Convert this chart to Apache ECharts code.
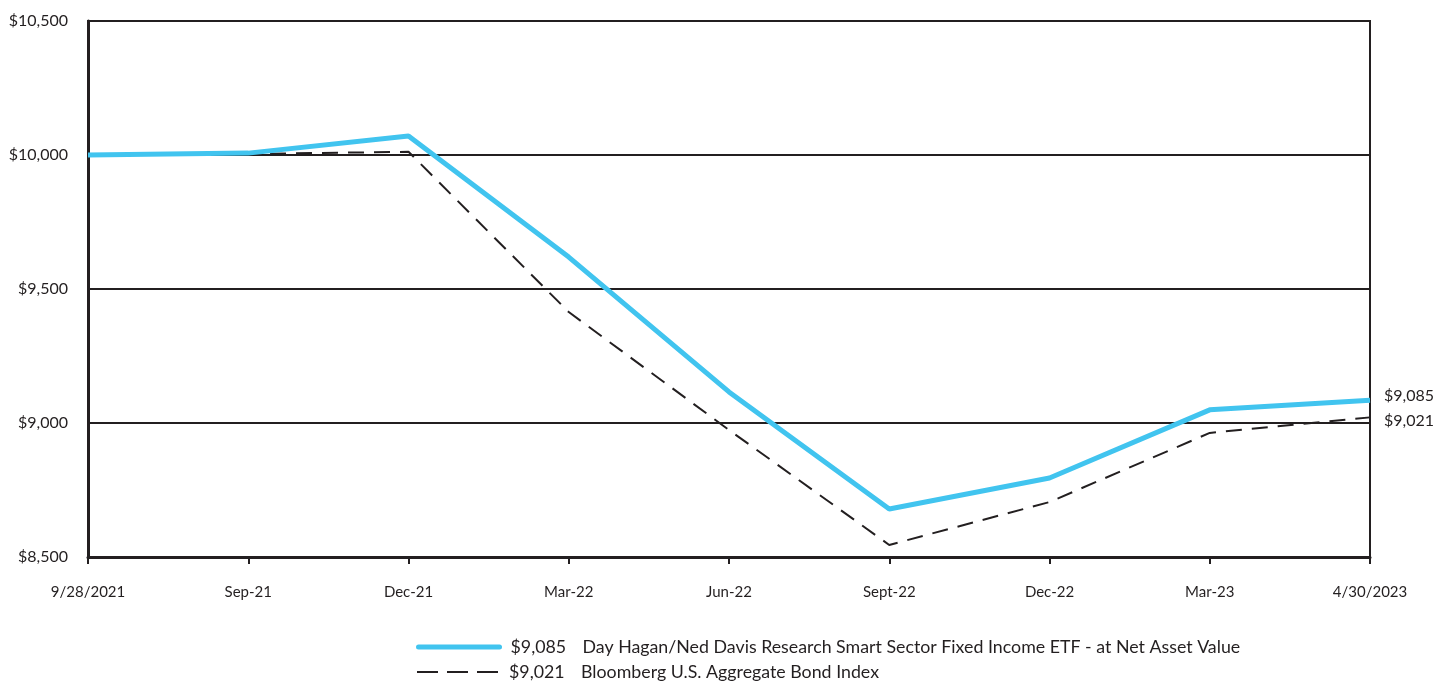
<!DOCTYPE html>
<html>
<head>
<meta charset="utf-8">
<script src="https://cdn.jsdelivr.net/npm/echarts@6/dist/echarts.min.js"></script>
<style>
  html, body { margin: 0; padding: 0; background: #fff; }
  #chart { width: 1437px; height: 681px; }
</style>
</head>
<body>
<div id="chart"></div>
<script>
// data
var categories = ['9/28/2021', 'Sep-21', 'Dec-21', 'Mar-22', 'Jun-22', 'Sept-22', 'Dec-22', 'Mar-23', '4/30/2023'];
var fundName = 'Day Hagan/Ned Davis Research Smart Sector Fixed Income ETF - at Net Asset Value';
var indexName = 'Bloomberg U.S. Aggregate Bond Index';
var fundValues = [10000, 10007, 10071, 9619, 9116, 8679, 8795, 9049, 9085];
var indexValues = [10000, 10004, 10012, 9414, 8974, 8545, 8705, 8963, 9021];
var yTicks = [8500, 9000, 9500, 10000, 10500];

var ink = '#231f20';
var blue = '#41c4ef';

function money(v) {
  return '$' + v.toLocaleString('en-US');
}

var endValues = {};
endValues[fundName] = fundValues[fundValues.length - 1];
endValues[indexName] = indexValues[indexValues.length - 1];

// one legend box per row
function legendRow(name, top, lineStyle) {
  return {
    left: 411,
    top: top,
    itemWidth: 81,
    itemHeight: 14,
    data: [name],
    itemStyle: { opacity: 0 },
    lineStyle: lineStyle,
    formatter: function (n) {
      return '{v|' + money(endValues[n]) + '}' + n;
    },
    textStyle: {
      color: ink, fontSize: 17.8,
      rich: { v: { width: 72, fontSize: 17.8, color: ink, padding: [0, 0, 0, 6] } }
    }
  };
}

var myChart = echarts.init(document.getElementById('chart'));
var option = {
  animation: false,
  textStyle: { fontFamily: 'Lato, "Open Sans", sans-serif', color: ink },
  grid: {
    left: 88, right: 67, top: 21, bottom: 124,
    show: true, borderColor: ink, borderWidth: 2, backgroundColor: 'transparent'
  },
  legend: [
    legendRow(fundName, 633, { color: blue, width: 5, type: 'solid', cap: 'round' }),
    legendRow(indexName, 658, { color: ink, width: 2, type: [21, 9] })
  ],
  xAxis: {
    type: 'category',
    boundaryGap: false,
    data: categories,
    axisLine: { show: true, lineStyle: { color: ink, width: 3 } },
    axisTick: { show: true, length: 7, alignWithLabel: true, lineStyle: { color: ink, width: 2 } },
    axisLabel: { color: ink, fontSize: 15, margin: 28, interval: 0 },
    splitLine: { show: false }
  },
  yAxis: {
    type: 'value',
    min: yTicks[0],
    max: yTicks[yTicks.length - 1],
    interval: 500,
    axisLine: { show: true, lineStyle: { color: ink, width: 3 } },
    axisTick: { show: false },
    axisLabel: { color: ink, fontSize: 16, margin: 20, formatter: money },
    splitLine: { show: true, lineStyle: { color: ink, width: 2 } }
  },
  series: [
    {
      name: indexName,
      type: 'line',
      symbol: 'none',
      data: indexValues,
      lineStyle: { color: ink, width: 2, type: [16, 10] },
      itemStyle: { color: ink },
      endLabel: {
        show: true, color: ink, fontSize: 16, distance: 14, offset: [0, 3],
        formatter: function (p) { return money(p.value); }
      },
      z: 3
    },
    {
      name: fundName,
      type: 'line',
      symbol: 'none',
      data: fundValues,
      lineStyle: { color: blue, width: 5 },
      itemStyle: { color: blue },
      endLabel: {
        show: true, color: ink, fontSize: 16, distance: 14, offset: [0, -4],
        formatter: function (p) { return money(p.value); }
      },
      z: 4
    }
  ]
};
myChart.setOption(option);
</script>
</body>
</html>
